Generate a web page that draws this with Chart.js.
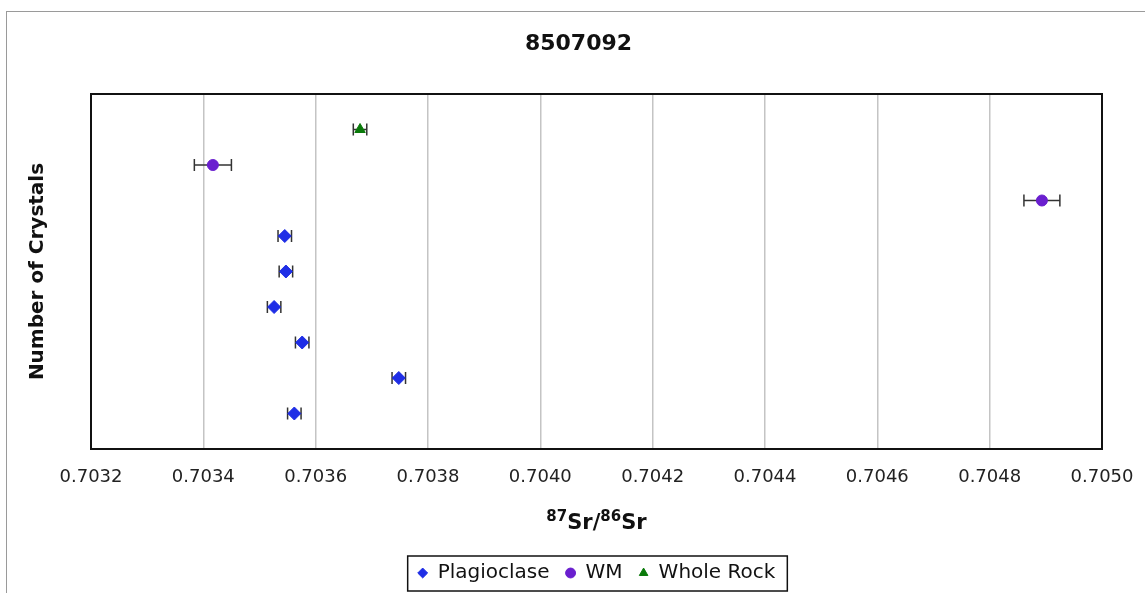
<!DOCTYPE html>
<html>
<head>
<meta charset="utf-8">
<script src="https://cdn.jsdelivr.net/npm/chart.js@4"></script>
<style>
  html, body { margin: 0; padding: 0; background: #fff; }
  #wrap { width: 1145px; height: 593px; }
</style>
</head>
<body>
<div id="wrap"><canvas id="myChart"></canvas></div>
<script>
const xTicks = [0.7032, 0.7034, 0.7036, 0.7038, 0.7040, 0.7042, 0.7044, 0.7046, 0.7048, 0.7050];

const plagX = [0.703545, 0.703547, 0.703526, 0.703576, 0.703748, 0.703562];
const plagY = [6, 5, 4, 3, 2, 1];
const plagErr = [0.000012, 0.000012, 0.000012, 0.000012, 0.000012, 0.000012];

const wmX = [0.703417, 0.704893];
const wmY = [8, 7];
const wmErr = [0.000033, 0.000032];

const wrX = [0.703679];
const wrY = [9];
const wrErr = [0.000012];

// x axis title pieces: [text, superscript?]
const xTitleParts = [['87', true], ['Sr/', false], ['86', true], ['Sr', false]];

Chart.defaults.font.family = "'DejaVu Sans', Verdana, sans-serif";
Chart.defaults.color = '#222';

function toPoints(xs, ys) {
    return xs.map((x, i) => ({ x: x, y: ys[i] }));
}

// page frame, plot box, horizontal error bars, x title and legend frame
const decorations = {
    id: 'decorations',
    beforeDraw(chart) {
        const ctx = chart.ctx;
        ctx.save();
        ctx.fillStyle = '#fff';
        ctx.fillRect(0, 0, chart.width, chart.height);
        ctx.strokeStyle = '#9a9a9a';
        ctx.lineWidth = 1;
        ctx.strokeRect(6.5, 11.5, 1300, 800);
        ctx.restore();
    },
    beforeDatasetsDraw(chart) {
        const ctx = chart.ctx;
        const a = chart.chartArea;
        const xs = chart.scales.x;
        const ys = chart.scales.y;
        ctx.save();
        ctx.strokeStyle = '#111';
        ctx.lineWidth = 2;
        ctx.strokeRect(a.left, a.top, a.right - a.left, a.bottom - a.top);

        ctx.strokeStyle = '#333';
        ctx.lineWidth = 1.5;
        chart.data.datasets.forEach(ds => {
            ds.data.forEach((p, i) => {
                const e = ds.xErr[i];
                const x0 = xs.getPixelForValue(p.x - e);
                const x1 = xs.getPixelForValue(p.x + e);
                const y = ys.getPixelForValue(p.y);
                ctx.beginPath();
                ctx.moveTo(x0, y); ctx.lineTo(x1, y);
                ctx.moveTo(x0, y - 6); ctx.lineTo(x0, y + 6);
                ctx.moveTo(x1, y - 6); ctx.lineTo(x1, y + 6);
                ctx.stroke();
            });
        });
        ctx.restore();
    },
    afterDraw(chart) {
        const ctx = chart.ctx;
        const a = chart.chartArea;

        // x title with real superscripts
        const big = "bold 21px 'DejaVu Sans', Verdana, sans-serif";
        const small = "bold 15px 'DejaVu Sans', Verdana, sans-serif";
        ctx.save();
        ctx.fillStyle = '#111';
        ctx.textBaseline = 'alphabetic';
        let total = 0;
        xTitleParts.forEach(([t, sup]) => {
            ctx.font = sup ? small : big;
            total += ctx.measureText(t).width;
        });
        let x = (a.left + a.right) / 2 - total / 2;
        const base = 529;
        xTitleParts.forEach(([t, sup]) => {
            ctx.font = sup ? small : big;
            ctx.fillText(t, x, sup ? base - 8 : base);
            x += ctx.measureText(t).width;
        });
        ctx.restore();

        const boxes = chart.legend.legendHitBoxes;
        if (!boxes || !boxes.length) return;
        const left = Math.min(...boxes.map(b => b.left)) - 10;
        const right = Math.max(...boxes.map(b => b.left + b.width)) + 12;
        const top = boxes[0].top - 7;
        const bottom = boxes[0].top + boxes[0].height + 8;
        ctx.save();
        ctx.strokeStyle = '#111';
        ctx.lineWidth = 1.5;
        ctx.strokeRect(left, top, right - left, bottom - top);
        ctx.restore();
    }
};

new Chart(document.getElementById('myChart'), {
    type: 'scatter',
    data: {
        datasets: [
            {
                label: 'Plagioclase',
                data: toPoints(plagX, plagY),
                xErr: plagErr,
                pointStyle: 'rectRot',
                pointRadius: 6.5,
                backgroundColor: '#1f2ee6',
                borderColor: '#1f2ee6',
                borderWidth: 1
            },
            {
                label: 'WM',
                data: toPoints(wmX, wmY),
                xErr: wmErr,
                pointStyle: 'circle',
                pointRadius: 5.5,
                backgroundColor: '#6a1fcf',
                borderColor: '#6a1fcf',
                borderWidth: 1
            },
            {
                label: 'Whole Rock',
                data: toPoints(wrX, wrY),
                xErr: wrErr,
                pointStyle: 'triangle',
                pointRadius: 6,
                backgroundColor: '#0a7a0a',
                borderColor: '#0a7a0a',
                borderWidth: 1
            }
        ]
    },
    options: {
        responsive: true,
        maintainAspectRatio: false,
        animation: false,
        layout: { padding: { left: 12, right: 0, top: 0, bottom: 0 } },
        plugins: {
            title: {
                display: true,
                text: '8507092',
                color: '#111',
                font: { size: 22, weight: 'bold' },
                padding: { top: 31, bottom: 36.6 }
            },
            legend: {
                position: 'bottom',
                fullSize: false,
                labels: {
                    usePointStyle: true,
                    boxWidth: 10,
                    boxHeight: 7,
                    padding: 16,
                    color: '#111',
                    font: { size: 20 }
                }
            },
            tooltip: { enabled: false }
        },
        scales: {
            x: {
                type: 'linear',
                min: 0.7032,
                max: 0.7050,
                afterBuildTicks: scale => { scale.ticks = xTicks.map(v => ({ value: v })); },
                afterFit: scale => {
                    scale.height = 98;
                    scale.paddingLeft = 0;
                    scale.paddingRight = 0;
                },
                ticks: {
                    padding: 18,
                    color: '#222',
                    font: { size: 18 },
                    callback: v => v.toFixed(4)
                },
                grid: { color: '#c4c4c4', lineWidth: 1.5, drawTicks: false },
                border: { display: false },
                title: { display: false }
            },
            y: {
                type: 'linear',
                min: 0,
                max: 10,
                afterFit: scale => { scale.width = 79; },
                ticks: { display: false },
                grid: { display: false },
                border: { display: false },
                title: {
                    display: true,
                    text: 'Number of Crystals',
                    color: '#111',
                    font: { size: 20, weight: 'bold' },
                    padding: { top: 14, bottom: 0 }
                }
            },
            y2: {
                type: 'linear',
                position: 'right',
                afterFit: scale => { scale.width = 43; },
                ticks: { display: false },
                grid: { display: false },
                border: { display: false }
            }
        }
    },
    plugins: [decorations]
});
</script>
</body>
</html>
